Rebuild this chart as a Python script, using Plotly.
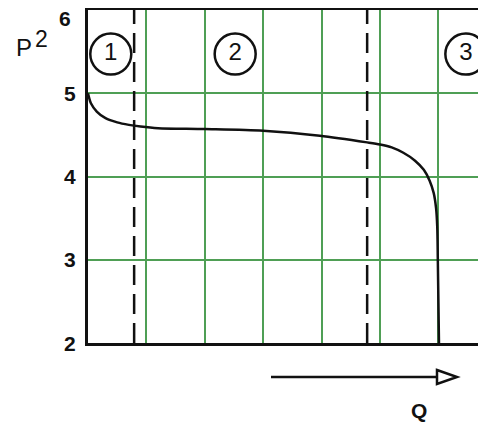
import plotly.graph_objects as go

# pump curve: Q in grid units, P in grid units
q_vals = [0, 0.05, 0.15, 0.3, 0.5, 0.7, 0.9, 1.2, 2.0, 3.0, 3.97, 4.78, 5.0,
          5.2, 5.4, 5.6, 5.75, 5.85, 5.92, 5.96, 5.98, 5.99, 6.01]
p_vals = [5.0, 4.88, 4.78, 4.70, 4.65, 4.62, 4.60, 4.58, 4.57, 4.55, 4.49, 4.41, 4.385,
          4.35, 4.285, 4.19, 4.08, 3.95, 3.80, 3.62, 3.40, 3.0, 2.0]

boundaries = [0.79, 4.78]
zone_q = [0.39, 2.52, 6.47]
zone_p = [5.47, 5.47, 5.47]
zone_labels = ["1", "2", "3"]
y_ticks = [2, 3, 4, 5, 6]

GREEN = "#4f9f55"
BLACK = "#111111"
FONT = "Liberation Sans, Arial, sans-serif"

fig = go.Figure()

for q in boundaries:
    fig.add_trace(go.Scatter(x=[q, q], y=[2, 6], mode="lines",
                             line=dict(color=BLACK, width=2.5, dash="20px,9px"),
                             hoverinfo="skip"))

fig.add_trace(go.Scatter(x=q_vals, y=p_vals, mode="lines",
                         line=dict(color=BLACK, width=2.5, shape="spline", smoothing=0.8)))

fig.add_trace(go.Scatter(x=zone_q, y=zone_p, mode="markers+text", text=zone_labels,
                         textposition="middle center", cliponaxis=False,
                         textfont=dict(family=FONT, size=24, color=BLACK),
                         marker=dict(symbol="circle-open", size=41,
                                     line=dict(color=BLACK, width=2.5), color=BLACK)))

annotations = []
for t in y_ticks:
    yshift = -8 if t == 6 else 0
    xpos = -0.058 if t == 6 else -0.045
    annotations.append(dict(x=xpos, y=t, xref="paper", yref="y", text=str(t),
                            showarrow=False, yshift=yshift, xanchor="center",
                            font=dict(family=FONT, size=21, color=BLACK, weight="bold")))
annotations += [
    dict(x=-0.185, y=5.55, xref="paper", yref="y", text="P", showarrow=False,
         font=dict(family=FONT, size=24, color=BLACK)),
    dict(x=-0.137, y=5.65, xref="paper", yref="y", text="2", showarrow=False,
         font=dict(family=FONT, size=23, color=BLACK)),
    dict(x=(429 - 88) / 398, y=(343 - 424) / 333, xref="paper", yref="paper", text="Q",
         showarrow=False, font=dict(family=FONT, size=21, color=BLACK, weight="bold")),
]

ay = (343 - 377) / 333
ah = 7 / 333
x0 = (271 - 88) / 398
x1 = (437 - 88) / 398
x2 = (457 - 88) / 398
shapes = [
    dict(type="line", xref="paper", yref="paper", x0=x0, x1=x1, y0=ay, y1=ay,
         line=dict(color=BLACK, width=2.5)),
    dict(type="path", xref="paper", yref="paper",
         path=f"M {x1},{ay + ah} L {x2},{ay} L {x1},{ay - ah} Z",
         line=dict(color=BLACK, width=2.5), fillcolor="white"),
]

# the page adds an 8px body margin, so the figure is 8px smaller on each leading side
fig.update_layout(
    width=478, height=417,
    margin=dict(l=80, r=0, t=2, b=82),
    paper_bgcolor="white", plot_bgcolor="white",
    showlegend=False,
    annotations=annotations,
    shapes=shapes,
    xaxis=dict(range=[0, 398 / 58.4], dtick=1, tick0=0, showticklabels=False,
               showgrid=True, gridcolor=GREEN, gridwidth=2, zeroline=False,
               showline=True, linecolor=BLACK, linewidth=3, mirror=True, ticks=""),
    yaxis=dict(range=[2, 6], dtick=1, showticklabels=False,
               showgrid=True, gridcolor=GREEN, gridwidth=2, zeroline=False,
               showline=True, linecolor=BLACK, linewidth=3, ticks=""),
)

fig.write_html("out.html")
